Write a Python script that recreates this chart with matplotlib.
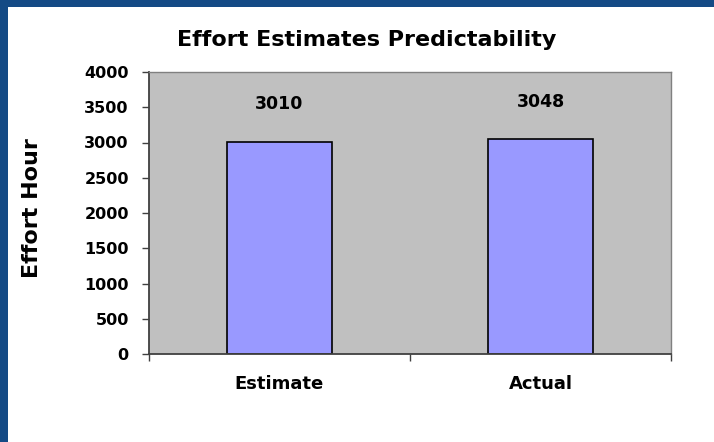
import matplotlib.pyplot as plt
from matplotlib.patches import Rectangle

categories = ['Estimate', 'Actual']
hours = [3010, 3048]
yticks = [0, 500, 1000, 1500, 2000, 2500, 3000, 3500, 4000]

# the original text is stretched wide, DejaVu Sans Bold fits it better than Arial
plt.rcParams['font.family'] = ['DejaVu Sans']
plt.rcParams['font.weight'] = 'bold'

fig = plt.figure(figsize=(7.14, 4.42), dpi=100)
fig.patch.set_facecolor('#144A85')
# white panel inside the blue frame
fig.patches.append(Rectangle((8 / 714, 0), 1, (442 - 7) / 442, transform=fig.transFigure,
                             facecolor='white', edgecolor='none', zorder=-10))

ax = fig.add_axes([149 / 714, 88 / 442, 522 / 714, 282 / 442])
ax.set_facecolor('#C0C0C0')

x = list(range(len(categories)))
bars = ax.bar(x, hours, width=0.4, color='#9999FF', edgecolor='black', linewidth=1.2, zorder=2)

for xi, h in zip(x, hours):
    ax.annotate(str(h), (xi, h), xytext=(0, 27), textcoords='offset points',
                ha='center', va='center', fontsize=12.5, fontweight='bold')

ax.set_xlim(-0.5, 1.5)
ax.set_ylim(0, 4000)
ax.set_yticks(yticks)
ax.set_yticklabels([str(v) for v in yticks], fontsize=11.5, fontweight='bold')
ax.set_xticks(x)
ax.set_xticklabels(categories, fontsize=13, fontweight='bold')
ax.tick_params(axis='x', which='major', length=0, pad=15)
ax.set_xticks([-0.5, 0.5, 1.5], minor=True)
ax.tick_params(axis='x', which='minor', length=5, width=1, color='#404040', direction='out')
ax.tick_params(axis='y', length=5, width=1, color='#404040', direction='out', pad=9.5)

for s in ['top', 'right']:
    ax.spines[s].set_color('#808080')
    ax.spines[s].set_linewidth(1)
for s in ['left', 'bottom']:
    ax.spines[s].set_color('#404040')
    ax.spines[s].set_linewidth(1.3)

ax.set_ylabel('Effort Hour', fontsize=16, fontweight='bold')
ax.yaxis.set_label_coords(-0.205, 0.518)

fig.text(0.514, 0.91, 'Effort Estimates Predictability', ha='center', va='center',
         fontsize=16, fontweight='bold')

fig.savefig('out.png', dpi=100)
